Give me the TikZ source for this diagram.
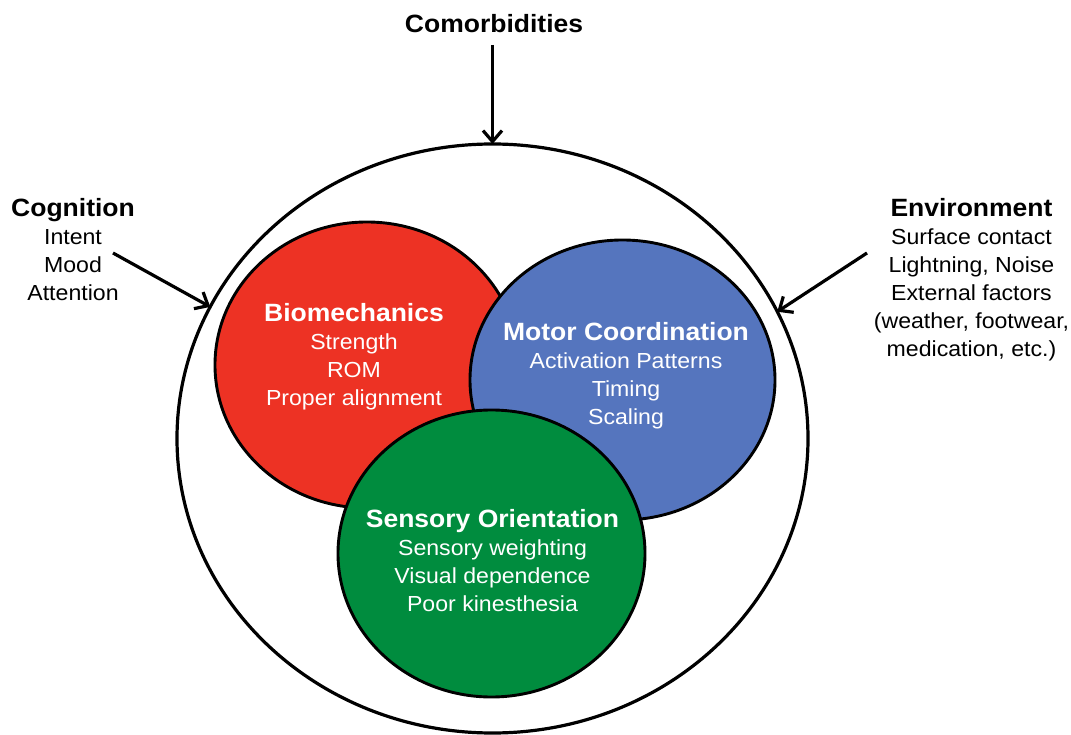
\documentclass[tikz,border=0pt]{standalone}
\usepackage{fontspec}
\setmainfont{Liberation Sans}[FakeStretch=1.06]
\usetikzlibrary{shapes.geometric,arrows.meta}

\definecolor{bioRed}{RGB}{237,50,36}
\definecolor{motorBlue}{RGB}{85,117,190}
\definecolor{sensGreen}{RGB}{0,140,62}

% bold heading inside a text block
\newcommand{\blocktitle}[1]{{\fontsize{25}{28}\selectfont\bfseries #1}}

\begin{document}
\begin{tikzpicture}[x=1pt, y=-1pt,
  zonecircle/.style={ellipse, draw=black, line width=2.9pt, inner sep=0pt, outer sep=0pt},
  rimcircle/.style={ellipse, draw=black, line width=3.2pt, inner sep=0pt, outer sep=0pt},
  txt/.style={align=center, inner sep=0pt, anchor=north, font=\fontsize{21.8}{28}\selectfont},
  feed/.style={line width=3.2pt, -{Straight Barb[length=11pt, width=19pt]}}
]
\path[use as bounding box, fill=white] (0,0) rectangle (1071,735);

% outer boundary
\node[rimcircle, minimum width=631pt, minimum height=589pt] (outer) at (492.5,438.5) {};

% the three overlapping domains
\node[zonecircle, fill=bioRed, minimum width=304pt, minimum height=286pt] (bio) at (367,365) {};
\node[zonecircle, fill=motorBlue, minimum width=305pt, minimum height=280pt] (motor) at (622.5,380) {};
\node[zonecircle, fill=sensGreen, minimum width=307pt, minimum height=287pt] (sens) at (491.5,553.5) {};

% texts inside the domains
\node[txt, text=white] (biotxt) at (354,303.6)
  {\blocktitle{Biomechanics}\\Strength\\ROM\\Proper alignment};
\node[txt, text=white] (motortxt) at (626,322)
  {\blocktitle{Motor Coordination}\\Activation Patterns\\Timing\\Scaling};
\node[txt, text=white] (senstxt) at (492.5,508.8)
  {\blocktitle{Sensory Orientation}\\Sensory weighting\\Visual dependence\\Poor kinesthesia};

% outside influences
\node[txt] (comorb) at (494,14) {\blocktitle{Comorbidities}};
\node[txt] (cog) at (73,198.6) {\blocktitle{Cognition}\\Intent\\Mood\\Attention};
\node[txt] (env) at (971.5,198)
  {\blocktitle{Environment}\\Surface contact\\Lightning, Noise\\External factors\\(weather, footwear,\\medication, etc.)};

% arrows onto the boundary
\coordinate (comtail) at (492.5,45);
\coordinate (cogtail) at (113,253);
\coordinate (envtail) at (867,253);
\draw[feed] (comtail) -- (outer.north);
\draw[feed] (cogtail) -- (outer.155.6);
\draw[feed] (envtail) -- (outer.24.3);
\end{tikzpicture}
\end{document}
